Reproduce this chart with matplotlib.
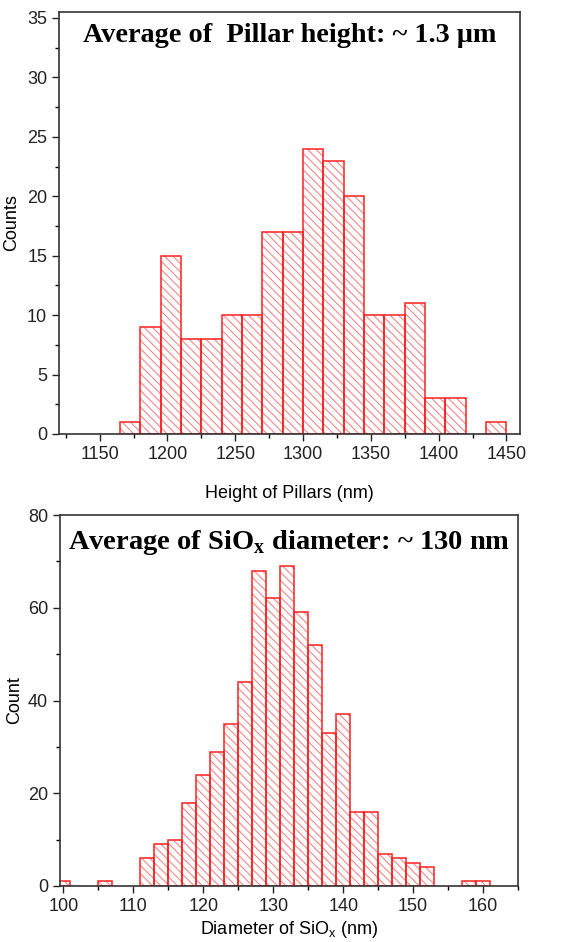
import numpy as np
import matplotlib
matplotlib.use('Agg')
import matplotlib.pyplot as plt
from matplotlib.ticker import MultipleLocator

# pillar height histogram (bin width 15 nm)
height_edges = [1165, 1180, 1195, 1210, 1225, 1240, 1255, 1270, 1285, 1300,
                1315, 1330, 1345, 1360, 1375, 1390, 1405, 1420, 1435]
height_counts = [1, 9, 15, 8, 8, 10, 10, 17, 17, 24, 23, 20, 10, 10, 11, 3, 3, 0, 1]

# SiOx diameter histogram (bin width 2 nm)
diam_edges = [99, 101, 103, 105, 107, 109, 111, 113, 115, 117, 119, 121, 123, 125,
              127, 129, 131, 133, 135, 137, 139, 141, 143, 145, 147, 149, 151,
              153, 155, 157, 159]
diam_counts = [1, 0, 0, 1, 0, 0, 6, 9, 10, 18, 24, 29, 35, 44, 68, 62, 69, 59,
               52, 33, 37, 16, 16, 7, 6, 5, 4, 0, 0, 1, 1]

plt.rcParams['font.family'] = 'Liberation Sans'
plt.rcParams['hatch.linewidth'] = 0.7

fig = plt.figure(figsize=(5.76, 9.42), dpi=100)
ax1 = fig.add_axes([59/576, 1 - 434/942, 461/576, 422/942])
ax2 = fig.add_axes([60/576, 1 - 886/942, 458/576, 371/942])


def hbars(ax, edges, counts, w):
    x = np.array(edges)
    c = np.array(counts)
    m = c > 0
    # hatch in light red, outline in red
    ax.bar(x[m], c[m], width=w, align='edge', color='white', edgecolor='#f27a7a',
           hatch='\\\\\\\\', linewidth=0)
    ax.bar(x[m], c[m], width=w, align='edge', fill=False, edgecolor='#ff2020',
           linewidth=1.1)


def style(ax):
    for s in ax.spines.values():
        s.set_linewidth(1.2)
        s.set_color('#333333')
    ax.tick_params(direction='out', length=5, width=1, labelsize=13, colors='#222222')
    ax.tick_params(which='minor', direction='out', length=3, width=1)


hbars(ax1, height_edges, height_counts, 15)
ax1.set_xlim(1120, 1460)
ax1.set_ylim(0, 35.5)
ax1.xaxis.set_major_locator(MultipleLocator(50))
ax1.xaxis.set_minor_locator(MultipleLocator(25))
ax1.yaxis.set_major_locator(MultipleLocator(5))
ax1.yaxis.set_minor_locator(MultipleLocator(2.5))
style(ax1)
ax1.set_xlabel('Height of Pillars (nm)', fontsize=13, labelpad=16)
ax1.set_ylabel('Counts', fontsize=13)
ax1.yaxis.set_label_coords(-0.085, 0.5)
ax1.text(0.5, 0.975, 'Average of  Pillar height: ~ 1.3 \u03bcm', transform=ax1.transAxes,
         ha='center', va='top', fontsize=20.3, fontweight='bold', family='Liberation Serif')

hbars(ax2, diam_edges, diam_counts, 2)
ax2.set_xlim(99.5, 165)
ax2.set_ylim(0, 80)
ax2.xaxis.set_major_locator(MultipleLocator(10))
ax2.xaxis.set_minor_locator(MultipleLocator(5))
ax2.yaxis.set_major_locator(MultipleLocator(20))
ax2.yaxis.set_minor_locator(MultipleLocator(10))
style(ax2)
ax2.set_xlabel('Diameter of SiO$_\\mathregular{x}$ (nm)', fontsize=13, labelpad=3)
ax2.set_ylabel('Count', fontsize=13)
ax2.yaxis.set_label_coords(-0.08, 0.5)
ax2.text(0.5, 0.965, 'Average of SiO$_\\mathregular{x}$ diameter: ~ 130 nm', transform=ax2.transAxes,
         ha='center', va='top', fontsize=20.5, fontweight='bold', family='Liberation Serif')

fig.savefig('out.png', dpi=100)
